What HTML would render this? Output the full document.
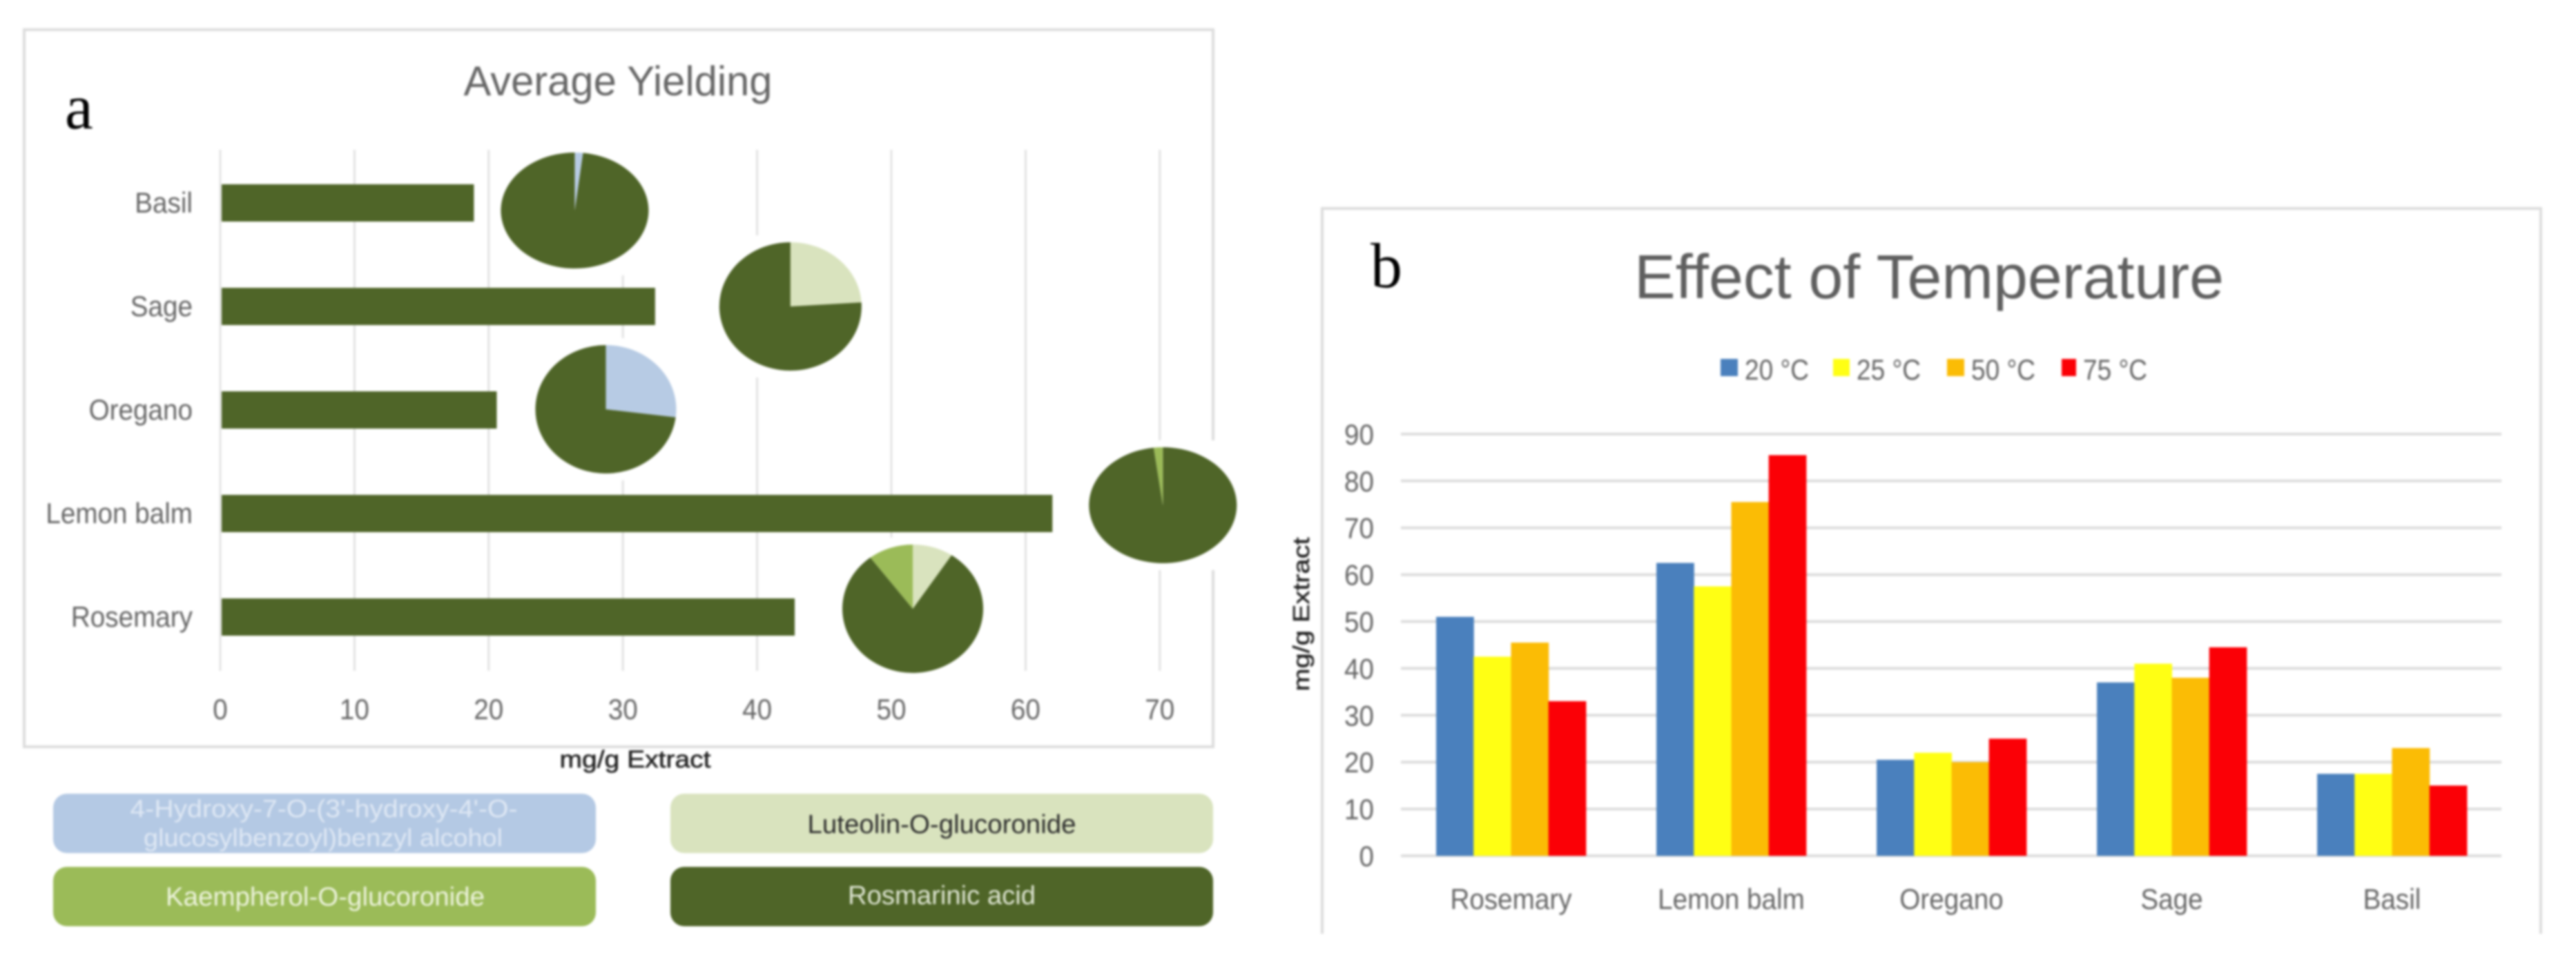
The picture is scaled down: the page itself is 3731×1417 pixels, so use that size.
<!DOCTYPE html>
<html lang="en">
<head>
<meta charset="utf-8">
<title>Average Yielding and Effect of Temperature</title>
<style>
html,body{margin:0;padding:0;background:#fff;width:3731px;height:1417px;overflow:hidden}
svg{display:block;filter:blur(1.5px)}
text{font-family:"Liberation Sans",Arial,sans-serif}
.serif{font-family:"Liberation Serif",serif;fill:#000;font-size:92px}
.lab{font-size:42px;fill:#666666}
</style>
</head>
<body>
<svg id="fig" xmlns="http://www.w3.org/2000/svg" width="3731" height="1417" viewBox="0 0 3731 1417">
  <rect x="0" y="0" width="3731" height="1417" fill="#ffffff"/>
  <g id="panelA">
    <rect x="35" y="43" width="1722" height="1039" fill="#fff" stroke="#dcdcdc" stroke-width="4"/>
    <text x="895" y="138" text-anchor="middle" font-size="60" fill="#666666" textLength="447" lengthAdjust="spacingAndGlyphs">Average Yielding</text>
    <text class="serif" x="94" y="186">a</text>
    <g id="aGrid"></g>
    <g id="aPies"></g>
    <g id="aBars"></g>
    <g id="aLabels"></g>
    <text x="920" y="1112" text-anchor="middle" font-size="35" fill="#222" stroke="#222" stroke-width=".6" textLength="219" lengthAdjust="spacingAndGlyphs">mg/g Extract</text>
  </g>
  <g>
    <g>
      <rect x="77" y="1150" width="786" height="86" rx="20" fill="#b4c9e4"/>
      <text x="469" y="1184" text-anchor="middle" font-size="36" fill="#dfe8f4" textLength="561" lengthAdjust="spacingAndGlyphs">4-Hydroxy-7-O-(3'-hydroxy-4'-O-</text>
      <text x="468" y="1226" text-anchor="middle" font-size="36" fill="#dfe8f4" textLength="520" lengthAdjust="spacingAndGlyphs">glucosylbenzoyl)benzyl alcohol</text>
    </g>
    <g>
      <rect x="971" y="1150" width="786" height="86" rx="20" fill="#d9e3be"/>
      <text x="1364" y="1207" text-anchor="middle" font-size="38" fill="#2c2c2c" textLength="389" lengthAdjust="spacingAndGlyphs">Luteolin-O-glucoronide</text>
    </g>
    <g>
      <rect x="77" y="1256" width="786" height="86" rx="20" fill="#9bbb58"/>
      <text x="471" y="1312" text-anchor="middle" font-size="38" fill="#eef4de" textLength="462" lengthAdjust="spacingAndGlyphs">Kaempherol-O-glucoronide</text>
    </g>
    <g>
      <rect x="971" y="1256" width="786" height="86" rx="20" fill="#4f6528"/>
      <text x="1364" y="1310" text-anchor="middle" font-size="38" fill="#dfe6d3" textLength="272" lengthAdjust="spacingAndGlyphs">Rosmarinic acid</text>
    </g>
  </g>
  <g id="panelB">
    <path d="M1915 1353V302H3680V1353" fill="none" stroke="#dcdcdc" stroke-width="4"/>
    <text class="serif" x="1985" y="416">b</text>
    <text x="2794" y="432" text-anchor="middle" font-size="90" fill="#5f5f5f" textLength="854" lengthAdjust="spacingAndGlyphs">Effect of Temperature</text>
    <g id="bLegend"></g>
    <g id="bGrid"></g>
    <g id="bBars"></g>
    <g id="bLabels"></g>
    <text transform="translate(1896 890) rotate(-90)" text-anchor="middle" font-size="33" fill="#222" stroke="#222" stroke-width=".5" textLength="223" lengthAdjust="spacingAndGlyphs">mg/g Extract</text>
  </g>
</svg>
<script>
// ---- Panel a data ----
const yieldCategories = ['Basil', 'Sage', 'Oregano', 'Lemon balm', 'Rosemary'];
const yieldValues = [18.9, 32.4, 20.6, 62, 42.8];
const yieldTicks = [0, 10, 20, 30, 40, 50, 60, 70];
const hydroxyShare = [1.8, 0, 27, 0, 0];
const luteolinShare = [0, 24, 0, 0, 9.3];
const rosmarinicShare = [98.2, 76, 73, 98, 80.4];
const kaempherolShare = [0, 0, 0, 2, 10.3];

// ---- Panel b data ----
const tempCategories = ['Rosemary', 'Lemon balm', 'Oregano', 'Sage', 'Basil'];
const tempSeriesNames = ['20 °C', '25 °C', '50 °C', '75 °C'];
const temp20 = [51, 62.5, 20.5, 37, 17.5];
const temp25 = [42.5, 57.5, 22, 41, 17.5];
const temp50 = [45.5, 75.5, 20, 38, 23];
const temp75 = [33, 85.5, 25, 44.5, 15];
const tempTicks = [0, 10, 20, 30, 40, 50, 60, 70, 80, 90];

const NS = 'http://www.w3.org/2000/svg';
function mk(tag, parent) {
  const e = document.createElementNS(NS, tag);
  parent.appendChild(e);
  return e;
}
function attrs(e, o) {
  for (const k in o) e.setAttribute(k, o[k]);
  return e;
}
// The source labels use a condensed face, so narrow the glyphs to match.
function narrow(e) {
  e.setAttribute('textLength', e.getComputedTextLength() * 0.92);
  e.setAttribute('lengthAdjust', 'spacingAndGlyphs');
}
const $ = id => document.getElementById(id);

// ---- Panel a axes ----
const ax = v => 319 + v * 19.44;
const ay = i => 294 + i * 150;
const GREEN = '#4f6528';

yieldTicks.forEach(t => {
  const l = mk('line', $('aGrid'));
  
  
  attrs(l, {x1: ax(t), x2: ax(t), y1: 217, y2: 972, stroke: '#e2e2e2', 'stroke-width': 3});
  const s = mk('text', $('aLabels'));
  
  
  attrs(s, {x: ax(t), y: 1042, 'text-anchor': 'middle', class: 'lab'});
  s.textContent = t;
  narrow(s);
});

// pie placement relative to the end of its bar (not data)
const pieGap = [146, 196, 158, 160, 171];
const pieShift = [11, 0, -1, -12, -12];
const pieRx = [107, 103, 102, 107, 102];
const pieRy = [84, 93, 93, 84, 93];
const sliceColors = ['#b7cbe4', '#d9e3be', GREEN, '#9bbb58'];
const sliceNames = ['pie-slice-hydroxy', 'pie-slice-luteolin', 'pie-slice-rosmarinic', 'pie-slice-kaempherol'];

yieldCategories.forEach((c, i) => {
  const y = ay(i);
  const endX = ax(yieldValues[i]);
  const bar = mk('rect', $('aBars'));
  
  
  attrs(bar, {x: ax(0) + 2, y: y - 27, width: endX - ax(0) - 2, height: 54, fill: GREEN});

  const lab = mk('text', $('aLabels'));
  
  
  attrs(lab, {x: 279, y: y + 14, 'text-anchor': 'end', class: 'lab'});
  lab.textContent = c;
  narrow(lab);

  const cx = endX + pieGap[i], cy = y + pieShift[i], rx = pieRx[i], ry = pieRy[i];
  const halo = mk('rect', $('aPies'));
  
  
  attrs(halo, {x: cx - rx - 12, y: cy - ry - 10, width: 2 * rx + 24, height: 2 * ry + 20, fill: '#fff'});

  const parts = [hydroxyShare[i], luteolinShare[i], rosmarinicShare[i], kaempherolShare[i]];
  const total = parts.reduce((a, b) => a + b, 0);
  let acc = 0;
  parts.forEach((p, k) => {
    if (p <= 0) return;
    const a0 = acc / total * 2 * Math.PI;
    acc += p;
    const a1 = acc / total * 2 * Math.PI;
    const x0 = cx + rx * Math.sin(a0), y0 = cy - ry * Math.cos(a0);
    const x1 = cx + rx * Math.sin(a1), y1 = cy - ry * Math.cos(a1);
    const big = a1 - a0 > Math.PI ? 1 : 0;
    const sl = mk('path', $('aPies'));
    
    
    attrs(sl, {d: `M${cx} ${cy}L${x0} ${y0}A${rx} ${ry} 0 ${big} 1 ${x1} ${y1}Z`, fill: sliceColors[k]});
  });
});

// ---- Panel b axes ----
const by = v => 1240 - v * 6.79;
const catW = 319;
const cx0 = i => 2029 + catW * (i + 0.5);
const BW = 54.2;
const tempColors = ['#4a80bd', '#ffff14', '#fbbc05', '#fb0006'];
const tempSeries = [temp20, temp25, temp50, temp75];
const swatchX = [2492, 2655, 2820, 2986];
const swatchW = [25, 24, 25, 21];

tempTicks.forEach(t => {
  const l = mk('line', $('bGrid'));
  
  
  attrs(l, {x1: 2029, x2: 3623, y1: by(t), y2: by(t), stroke: '#dcdcdc', 'stroke-width': 4});
  const s = mk('text', $('bLabels'));
  
  
  attrs(s, {x: 1990, y: by(t) + 15, 'text-anchor': 'end', class: 'lab'});
  s.textContent = t;
  narrow(s);
});

tempCategories.forEach((c, i) => {
  tempSeries.forEach((vals, k) => {
    const r = mk('rect', $('bBars'));
    
    
    attrs(r, {x: cx0(i) + (k - 2) * BW, y: by(vals[i]), width: BW + 0.5, height: by(0) - by(vals[i]), fill: tempColors[k]});
  });
  const s = mk('text', $('bLabels'));
  
  
  attrs(s, {x: cx0(i), y: 1317, 'text-anchor': 'middle', class: 'lab'});
  s.textContent = c;
  narrow(s);
});

tempSeriesNames.forEach((n, k) => {
  const sw = mk('rect', $('bLegend'));
  
  
  attrs(sw, {x: swatchX[k], y: 520, width: swatchW[k], height: 25, fill: tempColors[k]});
  const s = mk('text', $('bLegend'));
  
  
  attrs(s, {x: swatchX[k] + swatchW[k] + 10, y: 550, class: 'lab', textLength: 93, lengthAdjust: 'spacingAndGlyphs'});
  s.textContent = n;
});
</script>
</body>
</html>
